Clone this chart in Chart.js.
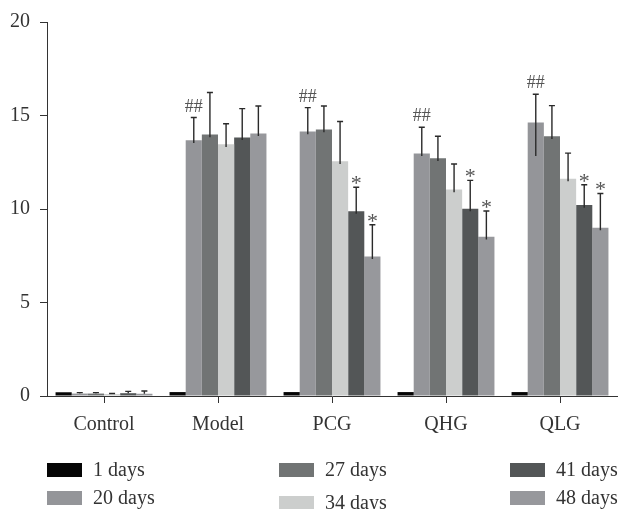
<!DOCTYPE html>
<html>
<head>
<meta charset="utf-8">
<script src="https://cdn.jsdelivr.net/npm/chart.js@4"></script>
<style>
  html, body { margin: 0; padding: 0; background: #fff; }
  #wrap { position: relative; width: 619px; height: 509px; }
  #chartBox { position: absolute; left: 0; top: 0; width: 619px; height: 450px; }
  #legend { position: absolute; left: 0; top: 0; width: 619px; height: 509px; pointer-events: none;
    font-family: "Liberation Serif", "DejaVu Serif", serif; font-size: 20px; color: #333; }
  .item { position: absolute; height: 20px; line-height: 20px; white-space: nowrap; }
  .item span.box { display: inline-block; width: 35px; height: 14px; vertical-align: -1px; margin-right: 11px; }
</style>
</head>
<body>
<div id="wrap">
  <div id="chartBox"><canvas id="c"></canvas></div>
  <div id="legend"></div>
</div>
<script>
// ---- data ----
const categories = ['Control', 'Model', 'PCG', 'QHG', 'QLG'];
const seriesLabels = ['1 days', '20 days', '27 days', '34 days', '41 days', '48 days'];
const seriesColors = ['#050505', '#949599', '#717474', '#cccecd', '#535657', '#97989c'];

const days1  = [0.20, 0.21, 0.21, 0.21, 0.21];
const days20 = [0.13, 13.67, 14.14, 12.97, 14.62];
const days27 = [0.13, 13.98, 14.25, 12.71, 13.89];
const days34 = [0.10, 13.46, 12.56, 11.04, 11.62];
const days41 = [0.15, 13.83, 9.88, 10.02, 10.21];
const days48 = [0.12, 14.04, 7.46, 8.51, 9.00];

// upper error (SD) and the visible part of the lower whisker
const errUp1  = [0, 0, 0, 0, 0];
const errUp20 = [0.05, 1.22, 1.28, 1.40, 1.52];
const errUp27 = [0.05, 2.25, 1.26, 1.18, 1.64];
const errUp34 = [0.03, 1.10, 2.12, 1.37, 1.37];
const errUp41 = [0.10, 1.54, 1.28, 1.51, 1.09];
const errUp48 = [0.15, 1.47, 1.70, 1.38, 1.83];

const errDn1  = [0, 0, 0, 0, 0];
const errDn20 = [0, 0.14, 0.14, 0.14, 1.78];
const errDn27 = [0, 0.14, 0.14, 0.14, 0.14];
const errDn34 = [0, 0.14, 0.16, 0.14, 0.14];
const errDn41 = [0, 0.14, 0.14, 0.14, 0.14];
const errDn48 = [0, 0.14, 0.14, 0.14, 0.14];

// significance marks
const marks20 = ['', '##', '##', '##', '##'];
const marks41 = ['', '', '*', '*', '*'];
const marks48 = ['', '', '*', '*', '*'];

const yTicks = [0, 5, 10, 15, 20];

const values = [days1, days20, days27, days34, days41, days48];
const errUp = [errUp1, errUp20, errUp27, errUp34, errUp41, errUp48];
const errDn = [errDn1, errDn20, errDn27, errDn34, errDn41, errDn48];
const marks = [null, marks20, null, null, marks41, marks48];

const FONT = '"Liberation Serif", "DejaVu Serif", serif';
const INK = '#333333';

const errorBars = {
  id: 'errorBars',
  afterDatasetsDraw(chart) {
    const ctx = chart.ctx;
    const y = chart.scales.y;
    ctx.save();
    chart.data.datasets.forEach((ds, i) => {
      const meta = chart.getDatasetMeta(i);
      meta.data.forEach((bar, j) => {
        const up = errUp[i][j];
        if (!up) return;
        const top = y.getPixelForValue(ds.data[j] + up);
        const low = y.getPixelForValue(ds.data[j] - errDn[i][j]);
        ctx.strokeStyle = '#2a2a2a';
        ctx.lineWidth = 1.4;
        ctx.beginPath();
        ctx.moveTo(bar.x, low);
        ctx.lineTo(bar.x, top);
        ctx.moveTo(bar.x - 3, top);
        ctx.lineTo(bar.x + 3, top);
        ctx.stroke();
        const m = marks[i] && marks[i][j];
        if (m) {
          ctx.fillStyle = '#555';
          ctx.textAlign = 'center';
          ctx.textBaseline = 'alphabetic';
          if (m === '*') {
            ctx.font = '22px ' + FONT;
            ctx.fillText(m, bar.x, top + 3);
          } else {
            ctx.font = '18px ' + FONT;
            ctx.fillText(m, bar.x, top - 6);
          }
        }
      });
    });
    ctx.restore();
  }
};

const chart = new Chart(document.getElementById('c'), {
  type: 'bar',
  data: {
    labels: categories,
    datasets: values.map((v, i) => ({
      label: seriesLabels[i],
      data: v,
      backgroundColor: seriesColors[i],
      borderWidth: 0,
      categoryPercentage: 0.85,
      barPercentage: 1.0
    }))
  },
  options: {
    responsive: true,
    maintainAspectRatio: false,
    animation: false,
    layout: { padding: { top: 16, right: 2, left: 0, bottom: 0 } },
    plugins: { legend: { display: false }, tooltip: { enabled: false } },
    scales: {
      x: {
        grid: { display: true, drawOnChartArea: false, drawTicks: true, tickLength: 7, color: INK, offset: false },
        border: { display: true, color: INK, width: 1 },
        ticks: { color: INK, font: { family: FONT, size: 20 }, padding: 10 },
        afterFit(s) { s.height = 54; }
      },
      y: {
        min: 0, max: 20,
        afterBuildTicks(s) { s.ticks = yTicks.map(v => ({ value: v })); },
        grid: { display: true, drawOnChartArea: false, drawTicks: true, tickLength: 7, color: INK },
        border: { display: true, color: INK, width: 1 },
        ticks: { color: INK, font: { family: FONT, size: 20 }, padding: 10 },
        afterFit(s) { s.width = 47; }
      }
    }
  },
  plugins: [errorBars]
});

// legend: three columns, two rows, filled column by column
const legendPos = [[47, 459], [47, 487], [279, 459], [279, 492], [510, 459], [510, 487]];
const legendEl = document.getElementById('legend');
chart.data.datasets.forEach((ds, i) => {
  const d = document.createElement('div');
  d.className = 'item';
  d.style.left = legendPos[i][0] + 'px';
  d.style.top = legendPos[i][1] + 'px';
  d.innerHTML = '<span class="box" style="background:' + ds.backgroundColor + '"></span>' + ds.label;
  legendEl.appendChild(d);
});
</script>
</body>
</html>
